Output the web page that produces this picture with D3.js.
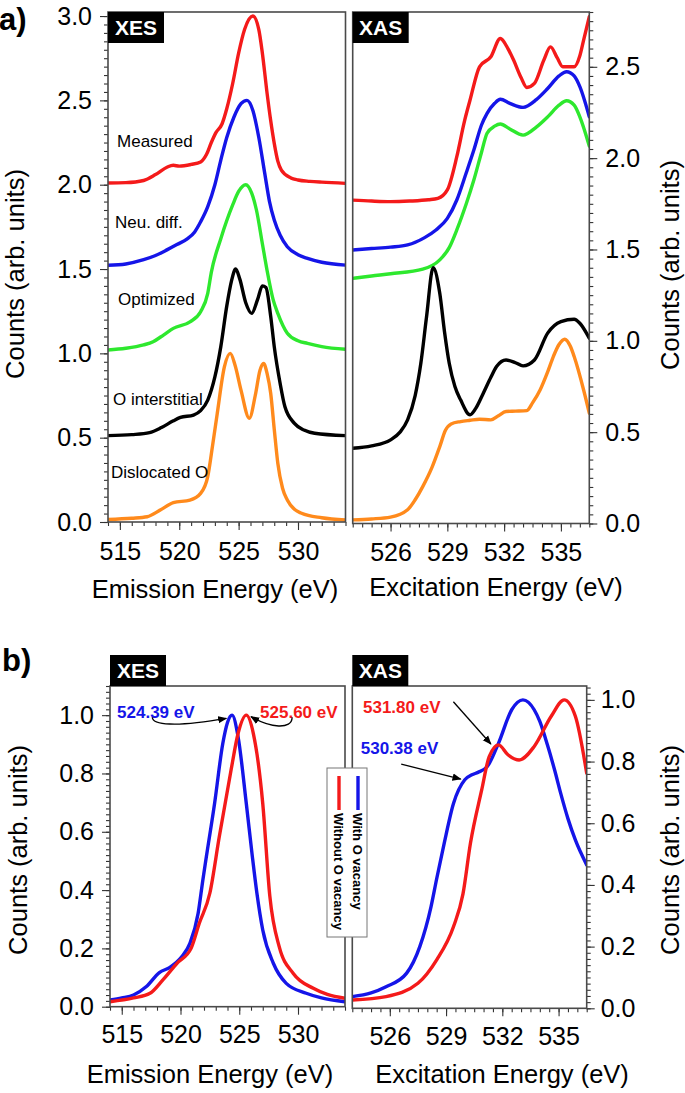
<!DOCTYPE html>
<html><head><meta charset="utf-8">
<script src="https://cdn.jsdelivr.net/npm/d3@7"></script>
<style>
body{margin:0;background:#fff}
svg{display:block}
text{font-family:"Liberation Sans",Arial,Helvetica,sans-serif}
</style>
</head><body>
<svg id="c" width="685" height="1093"></svg>
<script>
// ---------- DATA (energy eV, counts arb. units) ----------
// a) XES (offset curves)
const xesMeasured = [[514,2.01],[515.5,2.012],[517,2.025],[518,2.06],[519,2.105],[519.5,2.115],[520,2.11],[521,2.12],[521.8,2.135],[522.3,2.18],[522.7,2.25],[523.1,2.31],[523.6,2.36],[524,2.45],[524.5,2.6],[525,2.78],[525.5,2.92],[526.2,3.0],[526.7,2.92],[527,2.78],[527.4,2.54],[527.7,2.38],[528,2.245],[528.3,2.14],[528.6,2.087],[529.4,2.04],[530,2.028],[531,2.02],[532,2.015],[534,2.008]];
const xesNeuDiff = [[514,1.522],[515.5,1.53],[517,1.555],[518,1.58],[519,1.615],[519.8,1.645],[520.7,1.68],[521.3,1.72],[521.8,1.78],[522.4,1.87],[523,2.0],[523.5,2.146],[524,2.28],[524.6,2.40],[525.2,2.48],[525.7,2.50],[526.2,2.44],[526.7,2.28],[527.2,2.067],[527.6,1.9],[528,1.79],[528.5,1.7],[529.1,1.632],[530,1.585],[530.8,1.563],[532,1.54],[534,1.523]];
const xesOptimized = [[514,1.02],[515.5,1.03],[517,1.05],[517.8,1.069],[518.7,1.11],[519.5,1.148],[520.9,1.187],[521.8,1.247],[522.4,1.356],[522.7,1.48],[523.5,1.68],[524.5,1.88],[525,1.96],[525.6,2.0],[526.1,1.95],[526.5,1.85],[527,1.65],[527.4,1.49],[527.9,1.32],[528.3,1.237],[529.1,1.119],[530,1.075],[530.8,1.059],[532,1.04],[534,1.024]];
const xesInterstitial = [[514,0.512],[516,0.518],[517.5,0.53],[518.5,0.56],[519.5,0.6],[520.1,0.62],[521.2,0.634],[521.8,0.66],[522.4,0.723],[523,0.86],[523.5,1.04],[524,1.28],[524.4,1.43],[524.75,1.5],[525.1,1.44],[525.6,1.3],[526.1,1.237],[526.6,1.32],[527.0,1.4],[527.3,1.39],[527.7,1.22],[528,1.04],[528.5,0.82],[528.9,0.683],[529.7,0.585],[530.5,0.545],[531.4,0.526],[534,0.512]];
const xesDislocated = [[514,0.015],[516,0.022],[517.3,0.031],[518.4,0.071],[519.5,0.115],[520.9,0.13],[521.8,0.17],[522.4,0.269],[522.8,0.45],[523.2,0.644],[523.8,0.92],[524.3,1.0],[524.7,0.93],[525.2,0.782],[525.9,0.615],[526.4,0.75],[526.8,0.9],[527.1,0.94],[527.4,0.88],[527.7,0.763],[528,0.55],[528.3,0.348],[528.7,0.2],[529.1,0.13],[529.7,0.075],[530.3,0.052],[532,0.025],[534,0.012]];
// a) XAS (offset curves)
const xasMeasured = [[524,1.77],[525,1.765],[526,1.762],[527,1.765],[528,1.772],[528.5,1.78],[529,1.826],[529.5,2.008],[529.9,2.2],[530.2,2.318],[530.7,2.5],[531.3,2.555],[531.8,2.655],[532.2,2.6],[532.5,2.537],[532.9,2.44],[533.2,2.387],[533.6,2.409],[534.1,2.537],[534.45,2.609],[534.8,2.55],[535.1,2.5],[535.7,2.5],[536.0,2.56],[536.2,2.646],[536.5,2.774]];
const xasNeuDiff = [[524,1.497],[525,1.505],[526,1.513],[526.9,1.525],[527.8,1.565],[528.4,1.607],[529,1.67],[529.5,1.771],[530,1.92],[530.4,2.044],[530.8,2.18],[531.1,2.245],[531.5,2.3],[531.8,2.322],[532.3,2.3],[533,2.278],[533.7,2.32],[534.3,2.381],[534.9,2.45],[535.3,2.473],[535.7,2.45],[536,2.391],[536.5,2.226]];
const xasOptimized = [[524,1.342],[525,1.355],[526,1.367],[527.7,1.392],[528.6,1.443],[529.1,1.51],[529.5,1.607],[530,1.75],[530.4,1.88],[530.8,2.03],[531.1,2.136],[531.5,2.175],[531.8,2.187],[532.3,2.16],[533,2.126],[533.7,2.17],[534.3,2.226],[534.9,2.29],[535.3,2.314],[535.7,2.29],[536,2.226],[536.5,2.066]];
const xasInterstitial = [[524,0.412],[525,0.425],[526,0.458],[526.5,0.5],[526.9,0.567],[527.3,0.7],[527.6,0.877],[527.9,1.13],[528.25,1.4],[528.6,1.26],[528.85,1.05],[529.1,0.877],[529.4,0.75],[529.7,0.677],[530.2,0.595],[530.5,0.63],[530.9,0.713],[531.3,0.8],[531.6,0.859],[532.1,0.895],[532.6,0.88],[533,0.863],[533.6,0.895],[534.3,1.042],[535,1.105],[535.7,1.118],[536,1.096],[536.5,1.014]];
const xasDislocated = [[524,0.02],[525,0.025],[526,0.035],[526.9,0.075],[527.3,0.13],[527.7,0.202],[528.2,0.31],[528.6,0.421],[528.9,0.51],[529.2,0.545],[529.7,0.558],[530.2,0.565],[530.7,0.571],[531.3,0.567],[531.7,0.59],[532.1,0.613],[532.6,0.615],[533.2,0.618],[533.5,0.66],[533.9,0.731],[534.3,0.83],[534.6,0.914],[534.9,0.98],[535.2,1.009],[535.5,0.97],[535.7,0.914],[536.2,0.731],[536.5,0.604]];
// b) XES / XAS with and without O vacancy
const xesWithVac = [[514,0.023],[515,0.03],[516,0.04],[517.1,0.069],[518.2,0.117],[519.1,0.135],[520.1,0.171],[520.8,0.217],[521.5,0.32],[521.9,0.434],[522.2,0.514],[522.9,0.697],[523.6,0.903],[524.0,0.975],[524.39,1.0],[524.9,0.926],[525.6,0.697],[526.1,0.52],[526.5,0.39],[527,0.263],[527.9,0.149],[529,0.08],[530.7,0.046],[532,0.03],[534,0.017]];
const xesWithoutVac = [[514,0.017],[516,0.03],[517.4,0.046],[518.5,0.092],[519.7,0.149],[520.9,0.2],[521.6,0.286],[522.5,0.39],[523.3,0.583],[524.3,0.811],[524.9,0.937],[525.6,1.0],[526.2,0.937],[527,0.697],[527.6,0.38],[528.4,0.206],[529.6,0.114],[531.3,0.063],[532.5,0.042],[534,0.029]];
const xasWithVac = [[524,0.038],[525,0.05],[525.8,0.07],[526.9,0.114],[527.6,0.2],[528.2,0.33],[528.5,0.42],[528.9,0.535],[529.4,0.665],[530.0,0.741],[530.38,0.757],[530.7,0.765],[531.2,0.784],[531.8,0.86],[532.5,0.968],[533.1,1.0],[533.7,0.968],[534.0,0.93],[534.4,0.855],[534.8,0.77],[535.1,0.7],[535.5,0.615],[535.9,0.545],[536.5,0.465]];
const xasWithoutVac = [[524,0.027],[525.8,0.038],[527.5,0.081],[528.5,0.157],[529.4,0.265],[529.9,0.37],[530.3,0.535],[530.9,0.708],[531.3,0.816],[531.8,0.854],[532.3,0.822],[532.9,0.805],[533.7,0.849],[534.6,0.946],[535.3,1.0],[535.9,0.946],[536.5,0.762]];

// tick labels
const xesTicks = [515,520,525,530];
const xasTicks = [526,529,532,535];
const aYTicksLeft = [0,0.5,1.0,1.5,2.0,2.5,3.0];
const aYTicksRight = [0,0.5,1.0,1.5,2.0,2.5];
const bYTicks = [0,0.2,0.4,0.6,0.8,1.0];
const curveLabels = ["Measured","Neu. diff.","Optimized","O interstitial","Dislocated O"];
const curveLabelX = [514.76,514.59,514.85,514.42,514.25];   // start positions (eV)
const curveLabelY = [2.223,1.743,1.286,0.694,0.261];         // baselines (counts)
const legendNames = ["Without O vacancy","With O vacancy"];
const xesPeakLabels = [["524.39 eV",514.6,0.99],["525.60 eV",533.37,0.99]];
const xasPeakLabels = [["531.80 eV",524.57,0.959],["530.38 eV",524.45,0.825]];
const xesArrows = [[[517.6,0.993],[517.6,0.967],[519.5,0.958],[523.9,0.989]],[[529.5,0.993],[529.5,0.949],[527.6,0.956],[526.0,0.995]]];
const xasArrows = [[[529.39,0.994],[531.39,0.857]],[[526.61,0.792],[529.78,0.743]]];

// ---------- STYLE ----------
const C = {red:"#f41a1a",blue:"#1515e8",green:"#2ee82e",black:"#000",orange:"#ff8a1c"};
const TICK_FS = 25, TITLE_FS = 25.5;
const svg = d3.select("#c");
svg.append("defs").append("marker").attr("id","ah").attr("viewBox","0 0 10 10")
  .attr("refX",9).attr("refY",5).attr("markerWidth",7).attr("markerHeight",7)
  .attr("orient","auto").append("path").attr("d","M0,1 L10,5 L0,9 z").attr("fill","#000");

function panel(o){
  const x = d3.scaleLinear().domain(o.xd).range([o.l,o.r]);
  const y = d3.scaleLinear().domain(o.yd).range([o.b,o.t]);
  const g = svg.append("g");
  g.append("g").attr("transform",`translate(0,${o.b})`)
    .call(d3.axisBottom(x).tickValues(o.xMinor).tickSize(4).tickFormat(""))
    .call(s=>s.select(".domain").remove());
  g.append("g").attr("transform",`translate(0,${o.b})`)
    .call(d3.axisBottom(x).tickValues(o.xTicks).tickSize(8).tickPadding(o.xPad).tickFormat(d3.format("d")))
    .call(s=>s.select(".domain").remove())
    .call(s=>s.selectAll("text").attr("font-size",TICK_FS).attr("fill","#000").attr("font-family",null));
  const yAxis = o.side==="left"?d3.axisLeft:d3.axisRight;
  const yx = o.side==="left"?o.l:o.r;
  g.append("g").attr("transform",`translate(${yx},0)`)
    .call(yAxis(y).tickValues(o.yMinor).tickSize(4).tickFormat(""))
    .call(s=>s.select(".domain").remove());
  g.append("g").attr("transform",`translate(${yx},0)`)
    .call(yAxis(y).tickValues(o.yTicks).tickSize(8).tickPadding(o.yPad).tickFormat(d3.format(".1f")))
    .call(s=>s.select(".domain").remove())
    .call(s=>s.selectAll("text").attr("font-size",TICK_FS).attr("fill","#000").attr("font-family",null));
  g.selectAll(".tick line").attr("stroke","#333").attr("stroke-width",1.1);
  const cid = "clip"+Math.round(o.l)+"_"+Math.round(o.t);
  svg.select("defs").append("clipPath").attr("id",cid).append("rect")
    .attr("x",o.l).attr("y",o.t).attr("width",o.r-o.l).attr("height",o.b-o.t);
  const line = d3.line().x(d=>x(d[0])).y(d=>y(d[1])).curve(d3.curveMonotoneX);
  const cg = svg.append("g").attr("clip-path",`url(#${cid})`);
  o.series.forEach(s=>{
    cg.append("path").datum(s.data).attr("d",line).attr("fill","none")
      .attr("stroke",s.color).attr("stroke-width",3.4).attr("stroke-linejoin","round").attr("stroke-linecap","round");
  });
  svg.append("rect").attr("x",o.l).attr("y",o.t).attr("width",o.r-o.l).attr("height",o.b-o.t)
    .attr("fill","none").attr("stroke","#4a4a4a").attr("stroke-width",1.6);
  const bw=56, bh=31;
  const by = o.boxInside ? o.t : o.t-bh;
  svg.append("rect").attr("x",o.l).attr("y",by).attr("width",bw).attr("height",bh).attr("fill","#000");
  svg.append("text").attr("x",o.l+bw/2).attr("y",by+bh/2+7.5).attr("text-anchor","middle")
    .attr("font-size",21).attr("font-weight","bold").attr("fill","#fff").text(o.box);
  svg.append("text").attr("x",o.titleX).attr("y",o.titleY).attr("text-anchor","middle")
    .attr("font-size",TITLE_FS).attr("fill","#000").text(o.title);
  svg.append("text").attr("transform",`translate(${o.yTitleX},${o.yTitleC}) rotate(-90)`)
    .attr("text-anchor","middle").attr("font-size",TITLE_FS).attr("fill","#000").text("Counts (arb. units)");
  return {x,y};
}

// ---------- a) ----------
const aXES = panel({l:108,r:345.5,t:12,b:522,xd:[514,534],yd:[0,3.024],
  xTicks:xesTicks,xMinor:d3.range(514,534.01,1),xPad:12,
  yTicks:aYTicksLeft,yMinor:d3.range(0,3.0001,0.05),side:"left",yPad:8,
  series:[{data:xesMeasured,color:C.red},{data:xesNeuDiff,color:C.blue},{data:xesOptimized,color:C.green},{data:xesInterstitial,color:C.black},{data:xesDislocated,color:C.orange}],
  box:"XES",boxInside:true,title:"Emission Energy (eV)",titleX:215,titleY:598,yTitleX:24,yTitleC:274});
const aXAS = panel({l:352.7,r:589.3,t:12,b:523.5,xd:[524,536.5],yd:[0,2.8],
  xTicks:xasTicks,xMinor:d3.range(524,536.51,0.5),xPad:12,
  yTicks:aYTicksRight,yMinor:d3.range(0,2.8001,0.05),side:"right",yPad:8,
  series:[{data:xasMeasured,color:C.red},{data:xasNeuDiff,color:C.blue},{data:xasOptimized,color:C.green},{data:xasInterstitial,color:C.black},{data:xasDislocated,color:C.orange}],
  box:"XAS",boxInside:true,title:"Excitation Energy (eV)",titleX:496,titleY:596,yTitleX:679,yTitleC:265});
curveLabels.forEach((t,i)=>{
  svg.append("text").attr("x",aXES.x(curveLabelX[i])).attr("y",aXES.y(curveLabelY[i]))
    .attr("font-size",17).attr("fill","#000").text(t);
});

// ---------- b) ----------
const bXES = panel({l:110,r:345,t:686,b:1006.7,xd:[514,534],yd:[0,1.1],
  xTicks:xesTicks,xMinor:d3.range(514,534.01,1),xPad:11,
  yTicks:bYTicks,yMinor:d3.range(0,1.1001,0.02),side:"left",yPad:8,
  series:[{data:xesWithVac,color:C.blue},{data:xesWithoutVac,color:C.red}],
  box:"XES",boxInside:false,title:"Emission Energy (eV)",titleX:210,titleY:1083,yTitleX:27,yTitleC:850});
const bXAS = panel({l:352.3,r:586.7,t:686,b:1008.3,xd:[524,536.5],yd:[0,1.045],
  xTicks:xasTicks,xMinor:d3.range(524,536.51,0.5),xPad:11,
  yTicks:bYTicks,yMinor:d3.range(0,1.0401,0.02),side:"right",yPad:6,
  series:[{data:xasWithVac,color:C.blue},{data:xasWithoutVac,color:C.red}],
  box:"XAS",boxInside:false,title:"Excitation Energy (eV)",titleX:502,titleY:1083,yTitleX:679,yTitleC:850});

const peakColors = [C.blue,C.red];
xesPeakLabels.forEach((p,i)=>{
  svg.append("text").attr("x",bXES.x(p[1])).attr("y",bXES.y(p[2]))
    .attr("text-anchor",i===0?"start":"end").attr("font-size",17).attr("font-weight","bold")
    .attr("fill",peakColors[i]).text(p[0]);
});
xasPeakLabels.forEach((p,i)=>{
  svg.append("text").attr("x",bXAS.x(p[1])).attr("y",bXAS.y(p[2]))
    .attr("font-size",17).attr("font-weight","bold")
    .attr("fill",i===0?C.red:C.blue).text(p[0]);
});
xesArrows.forEach(a=>{
  const p = d3.path(); const P = a.map(d=>[bXES.x(d[0]),bXES.y(d[1])]);
  p.moveTo(...P[0]); p.bezierCurveTo(...P[1],...P[2],...P[3]);
  svg.append("path").attr("d",p.toString()).attr("fill","none").attr("stroke","#000")
    .attr("stroke-width",1.3).attr("marker-end","url(#ah)");
});
xasArrows.forEach(a=>{
  const p = d3.path(); const P = a.map(d=>[bXAS.x(d[0]),bXAS.y(d[1])]);
  p.moveTo(...P[0]); p.lineTo(...P[1]);
  svg.append("path").attr("d",p.toString()).attr("fill","none").attr("stroke","#000")
    .attr("stroke-width",1.3).attr("marker-end","url(#ah)");
});

// legend
const lg = svg.append("g");
lg.append("rect").attr("x",327).attr("y",768).attr("width",40).attr("height",169)
  .attr("fill","#fff").attr("stroke","#777").attr("stroke-width",1);
[[C.red,339],[C.blue,358]].forEach((c,i)=>{
  lg.append("line").attr("x1",c[1]).attr("x2",c[1]).attr("y1",776).attr("y2",810)
    .attr("stroke",c[0]).attr("stroke-width",3.4);
  lg.append("text").attr("transform",`translate(${c[1]},813) rotate(90)`).attr("dy","0.35em")
    .attr("font-size",13).attr("font-weight","bold").attr("fill","#000").text(legendNames[i]);
});

svg.append("text").attr("x",-1).attr("y",30).attr("font-size",31).attr("font-weight","bold").text("a)");
svg.append("text").attr("x",2).attr("y",671).attr("font-size",31).attr("font-weight","bold").text("b)");
</script>
</body></html>
